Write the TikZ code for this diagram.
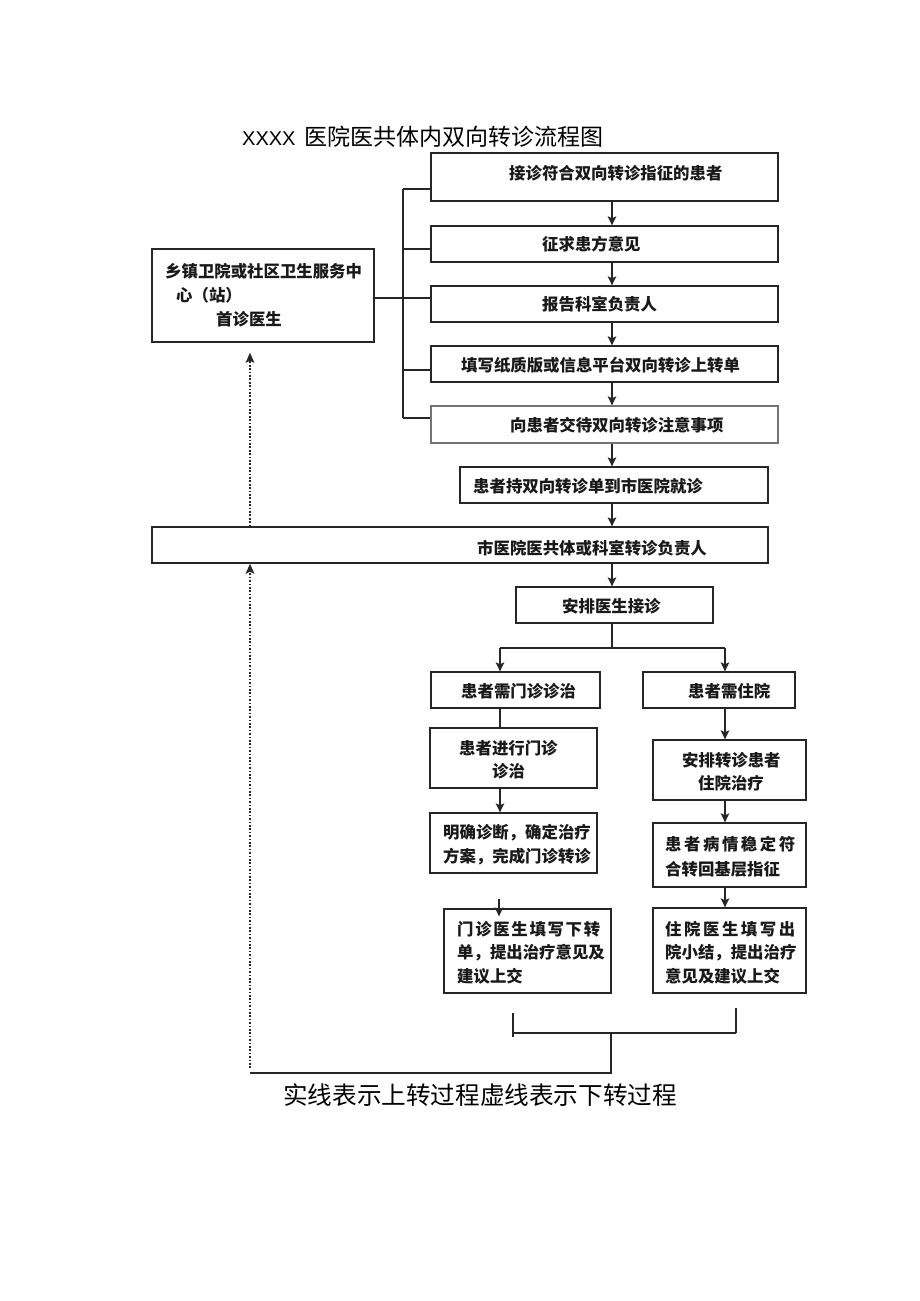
\documentclass[tikz,border=0pt]{standalone}
\usepackage{fontspec}
\setmainfont{Liberation Serif}
\newfontfamily\cjk{Noto Sans CJK SC}
\newfontfamily\lsans{Liberation Sans}
\usetikzlibrary{arrows.meta,calc}
\tikzset{
  box/.style={draw=black!85, line width=1.3pt, inner sep=0pt, rectangle},
  txt/.style={font=\cjk\bfseries\fontsize{16.4}{23.5}\selectfont, inner sep=0pt, anchor=west, align=left, text=black!90},
  arr/.style={line width=1.7pt, draw=black!85, -{Stealth[length=9pt,width=8.5pt,inset=2pt]}},
  ln/.style={line width=1.6pt, draw=black!85},
  dotl/.style={line width=1.9pt, dash pattern=on 1.7pt off 1.7pt, draw=black!85, -{Stealth[length=10pt,width=8.5pt,inset=2pt]}}
}
\begin{document}
\begin{tikzpicture}[x=1pt,y=-1pt]
\useasboundingbox[fill=white] (0,0) rectangle (920,1301);

% title
\node[anchor=west, inner sep=0pt] (title) at (242,137) {\makebox[62pt][l]{\lsans\fontsize{20}{24}\selectfont XXXX}{\cjk\fontsize{23}{26}\selectfont 医院医共体内双向转诊流程图}};

% boxes
\node[box, minimum width=347pt, minimum height=48pt] (b1) at (604.5,177) {};
\node[box, minimum width=347pt, minimum height=36pt] (b2) at (604.5,244) {};
\node[box, minimum width=347pt, minimum height=36pt] (b3) at (604.5,304) {};
\node[box, minimum width=347pt, minimum height=36pt] (b4) at (604.5,364) {};
\node[box, draw=black!55, minimum width=347pt, minimum height=37pt] (b5) at (604.5,424.5) {};
\node[box, minimum width=308pt, minimum height=36pt] (b6) at (614,485) {};
\node[box, minimum width=616pt, minimum height=36pt] (city) at (460,545) {};
\node[box, minimum width=197pt, minimum height=36pt] (b7) at (614.5,605) {};
\node[box, minimum width=222pt, minimum height=93pt] (lb) at (263,295.5) {};
\node[box, minimum width=169pt, minimum height=36pt] (b8) at (515.5,690) {};
\node[box, minimum width=152pt, minimum height=36pt] (b9) at (719,690) {};
\node[box, minimum width=167pt, minimum height=60pt] (b10) at (513.5,758) {};
\node[box, minimum width=167pt, minimum height=60pt] (b11) at (513.5,843) {};
\node[box, minimum width=167pt, minimum height=84pt] (b15) at (527.5,951) {};
\node[box, minimum width=153pt, minimum height=60pt] (b12) at (729.5,770) {};
\node[box, minimum width=153pt, minimum height=64pt] (b13) at (729.5,855) {};
\node[box, minimum width=153pt, minimum height=85pt] (b14) at (729.5,950.5) {};

% texts
\node[txt] (t1) at (509,173) {接诊符合双向转诊指征的患者};
\node[txt] (t2) at (542,244) {征求患方意见};
\node[txt] (t3) at (542,304) {报告科室负责人};
\node[txt] (t4) at (461,365) {填写纸质版或信息平台双向转诊上转单};
\node[txt] (t5) at (510,425) {向患者交待双向转诊注意事项};
\node[txt] (t6) at (473,486) {患者持双向转诊单到市医院就诊};
\node[txt] (tc) at (477,548) {市医院医共体或科室转诊负责人};
\node[txt] (t7) at (562,606) {安排医生接诊};
\node[txt, font=\cjk\bfseries\fontsize{16.4}{24}\selectfont] (tl) at (165,295) {乡镇卫院或社区卫生服务中\\\hspace*{11pt}心（站）\\\hspace*{51pt}首诊医生};
\node[txt] (t8) at (461,691) {患者需门诊诊治};
\node[txt] (t9) at (688,691) {患者需住院};
\node[txt] (t10) at (459,759.5) {患者进行门诊\\\hspace*{33pt}诊治};
\node[txt] (t11) at (443,844.5) {明确诊断，确定治疗\\方案，完成门诊转诊};
\node[txt] (t15) at (457,952.5) {\makebox[143pt][l]{门\hfill 诊\hfill 医\hfill 生\hfill 填\hfill 写\hfill 下\hfill 转}\\单，提出治疗意见及\\建议上交};
\node[txt] (t12) at (682,771.5) {安排转诊患者\\\hspace*{16pt}住院治疗};
\node[txt, font=\cjk\bfseries\fontsize{16.4}{25}\selectfont] (t13) at (665,856.5) {\makebox[130pt][l]{患\hfill 者\hfill 病\hfill 情\hfill 稳\hfill 定\hfill 符}\\合转回基层指征};
\node[txt] (t14) at (665,952.5) {\makebox[130pt][l]{住\hfill 院\hfill 医\hfill 生\hfill 填\hfill 写\hfill 出}\\院小结，提出治疗\\意见及建议上交};

\node[anchor=west, inner sep=0pt, font=\cjk\fontsize{24.6}{28}\selectfont] (note) at (283,1095) {实线表示上转过程虚线表示下转过程};

% main column arrows
\coordinate (ax) at (612,0);
\draw[arr] (b1.south -| ax) -- (b2.north -| ax);
\draw[arr] (b2.south -| ax) -- (b3.north -| ax);
\draw[arr] (b3.south -| ax) -- (b4.north -| ax);
\draw[arr] (b4.south -| ax) -- (b5.north -| ax);
\draw[arr] (b5.south -| ax) -- (b6.north -| ax);
\draw[arr] (b6.south -| ax) -- (city.north -| ax);
\draw[arr] (city.south -| ax) -- (b7.north -| ax);

% left bracket
\coordinate (brk) at (403,0);
\coordinate (k1) at ([yshift=-12pt]b1.west);
\coordinate (k2) at ([yshift=-5pt]b2.west);
\coordinate (k3) at ([yshift=6pt]b3.west);
\coordinate (k4) at ([yshift=-6pt]b4.west);
\coordinate (k5) at ([yshift=6.5pt]b5.west);
\draw[ln, line width=1.3pt] (k1 -| brk) -- (k5 -| brk);
\draw[ln, line width=1.3pt] (k1) -- (k1 -| brk);
\draw[ln, line width=1.3pt] (k2) -- (k2 -| brk);
\draw[ln, line width=1.3pt] (k3) -- (lb.east |- k3);
\draw[ln, line width=1.3pt] (k4) -- (k4 -| brk);
\draw[ln, line width=1.3pt] (k5) -- (k5 -| brk);

% branch
\coordinate (jl) at (500,648);
\coordinate (jr) at (725,648);
\draw[ln] (b7.south -| ax) -- (jl -| ax);
\draw[ln] (jl) -- (jr);
\draw[arr] (jl) -- (b8.north -| jl);
\draw[arr] (jr) -- (b9.north -| jr);
\draw[ln] (b8.south -| jl) -- (b10.north -| jl);
\draw[arr] (b10.south -| jl) -- (b11.north -| jl);
\coordinate (s15) at (499,899);
\draw[arr] (s15) -- ([yshift=-8pt]b15.north -| s15);
\draw[arr] (b9.south -| jr) -- (b12.north -| jr);
\draw[arr] (b12.south -| jr) -- (b13.north -| jr);
\draw[arr] (b13.south -| jr) -- (b14.north -| jr);

% bottom bracket
\coordinate (bk1) at (513,1013);
\coordinate (bk2) at (513,1037);
\coordinate (bk3) at (736,1008);
\coordinate (bk4) at (736,1033);
\coordinate (bm) at (611,1033);
\coordinate (bb) at (611,1073);
\coordinate (bd) at (250,1073);
\coordinate (bdu) at (250,1068);
\draw[ln] (bk1) -- (bk2);
\draw[ln] (bk3) -- (bk4);
\draw[ln] (bk4) -- (bk4 -| bk1);
\draw[ln] (bm) -- (bb) -- (bd);

% dotted returns
\draw[dotl] (bdu) -- (city.south -| bdu);
\draw[dotl] (city.north -| bdu) -- ([yshift=-10pt]lb.south -| bdu);
\end{tikzpicture}
\end{document}
